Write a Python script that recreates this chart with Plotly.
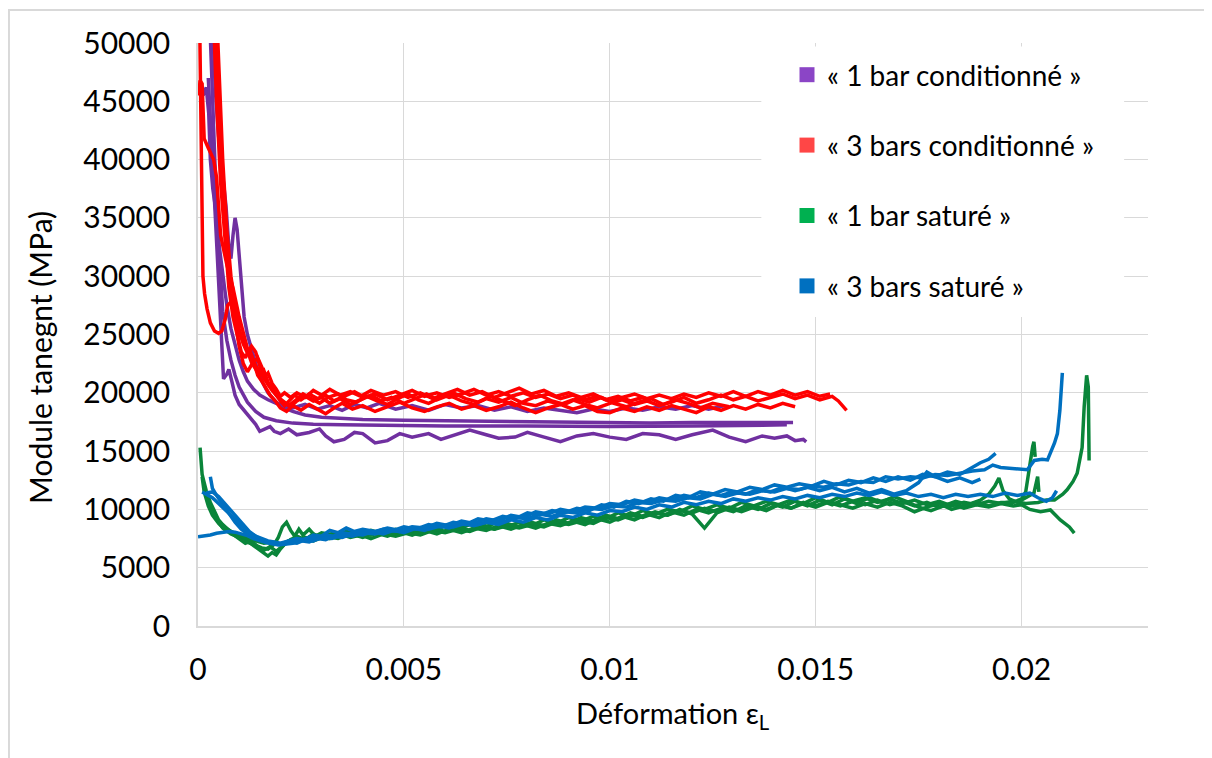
import plotly.graph_objects as go

# strain values typed in per-mille (‰), tangent modulus in MPa
# --- « 1 bar conditionné » (purple) ---
violet_1 = [(0.12,45500),(0.2,46200),(0.26,44000),(0.3,40000),(0.36,37500),(0.42,36000),(0.5,33000),(0.6,30000),
            (0.7,27500),(0.8,25500),(0.9,24000),(1.0,22800),(1.1,21800),(1.2,21000),(1.35,20300),(1.5,19800),(1.7,19400),
            (1.9,19100),(2.1,18900),(2.3,18700),(2.6,19000),(2.9,18600),(3.2,18900),(3.5,18500),(3.8,19000),(4.1,18700),
            (4.4,19100),(4.8,18600),(5.2,18900),(5.6,18500),(6.0,19000),(6.4,18700),(6.8,18900),(7.2,18500),(7.6,18800),
            (8.0,18400),(8.4,18700),(8.8,18500),(9.2,18300),(9.6,18600),(10.0,18400),(10.4,18700),(10.8,18500),
            (11.2,18800),(11.6,18600),(12.0,18900),(12.4,18600),(12.8,18900)]
violet_2 = [(0.36,51000),(0.42,46000),(0.5,42000),(0.6,38500),(0.68,36000),(0.75,32500),(0.8,31500),(0.85,33500),
            (0.9,35000),(0.95,34000),(1.0,31500),(1.06,29000),(1.12,26500),(1.2,25000),(1.3,23800),(1.4,22500),
            (1.55,21000),(1.7,20000),(1.9,19200),(2.1,18700),(2.3,18400),(2.6,18100),(3.0,17900),(3.5,17800),
            (4.0,17700),(5.0,17650),(6.0,17600),(7.0,17550),(8.0,17500),(9.0,17450),(10.0,17400),(11.0,17400),
            (12.0,17450),(13.0,17450),(14.0,17450),(14.45,17450)]
violet_3 = [(0.3,50500),(0.35,45000),(0.4,40000),(0.45,36000),(0.5,33000),(0.55,30000),(0.6,27000),(0.7,24500),
            (0.8,22800),(0.9,21500),(1.0,20500),(1.2,19200),(1.4,18400),(1.6,17900),(1.9,17600),(2.3,17400),
            (2.8,17300),(3.5,17250),(4.5,17200),(6.0,17150),(8.0,17150),(10.0,17100),(12.0,17150),(13.5,17200),
            (14.3,17250)]
violet_4 = [(0.25,47000),(0.35,40000),(0.45,33000),(0.52,27000),(0.58,23000),(0.62,21200),(0.7,21600),(0.75,22000),
            (0.82,21000),(0.9,19800),(1.0,19000),(1.1,18600),(1.25,17900),(1.4,17300),(1.5,16700),(1.65,16900),
            (1.75,17100),(1.85,16700),(2.0,16500),(2.2,16900),(2.4,16400),(2.7,16600),(2.95,16900),(3.1,16300),
            (3.3,15800),(3.55,16000),(3.8,16600),(4.0,16500),(4.3,15700),(4.6,15900),(4.9,16500),(5.2,16200),
            (5.6,16500),(5.9,16000),(6.3,16500),(6.6,16800),(7.0,16400),(7.3,16100),(7.7,16200),(8.0,16600),
            (8.3,16300),(8.8,15800),(9.2,16300),(9.6,16500),(10.0,16200),(10.4,16000),(10.8,16500),(11.2,16400),
            (11.6,16000),(12.0,16400),(12.5,16800),(12.9,16200),(13.3,15800),(13.7,16300),(14.0,16100),(14.3,16300),
            (14.5,15900),(14.7,16000),(14.77,15800)]

# --- « 3 bars conditionné » (red) ---
rouge_1 = [(0.02,45500),(0.05,46800),(0.1,46500),(0.12,44000),(0.15,41800),(0.25,41000),(0.38,40000),(0.45,38500),
           (0.5,36000),(0.55,33500),(0.7,31000),(0.85,29000),(1.0,26500),(1.1,25000),(1.2,23800),(1.3,23200),
           (1.4,22300),(1.5,21800),(1.6,21200),(1.7,20700),(1.8,20200),(1.95,19600),(2.1,19200),(2.25,18800),
           (2.4,19300),(2.6,19700),(2.8,19300),(3.0,19600),(3.2,19100),(3.45,19500),(3.7,19000),(3.95,19400),
           (4.2,19800),(4.45,19300),(4.7,19600),(5.0,19100),(5.3,19500),(5.55,19900),(5.8,19400),(6.1,19800),
           (6.4,19300),(6.7,19000),(7.0,19500),(7.3,19200),(7.6,19600),(7.9,19100),(8.2,18900),(8.5,19300),
           (8.8,19000),(9.1,19400),(9.4,19000),(9.7,18700),(10.0,19100),(10.3,19400),(10.6,19000),(10.9,19300),
           (11.2,18900),(11.5,19200),(11.8,19600),(12.1,19100),(12.4,19400),(12.7,19800),(13.0,19400),(13.3,19700),
           (13.6,19300),(13.9,19600),(14.2,19900),(14.5,19500),(14.8,19800),(15.1,19400),(15.4,19700),(15.55,19300),
           (15.65,18900),(15.75,18500)]
rouge_2 = [(0.04,52000),(0.06,46000),(0.08,40000),(0.1,34000),(0.12,30000),(0.16,28500),(0.22,27200),(0.3,26000),
           (0.4,25300),(0.5,25100),(0.58,25300),(0.66,26300),(0.72,27500),(0.8,27800),(0.9,26500),(1.0,25200),
           (1.1,24300),(1.2,23600),(1.3,22600),(1.4,22000),(1.5,21500),(1.6,21900),(1.7,20900),(1.8,20400),
           (1.9,19800),(2.0,19300),(2.1,18900),(2.2,19300),(2.35,19800),(2.5,19400),(2.7,19900),(2.9,19500),
           (3.1,19800),(3.3,19300),(3.55,19700),(3.8,20100),(4.05,19600),(4.3,19900),(4.6,19400),(4.9,19800),
           (5.2,20200),(5.5,19700),(5.8,20000),(6.1,19600),(6.4,19900),(6.7,20300),(7.0,19800),(7.3,20100),
           (7.6,19700),(7.9,20000),(8.2,19600),(8.5,19900),(8.8,19500),(9.1,19800),(9.4,19400),(9.7,19700),
           (10.0,19300),(10.3,19600),(10.6,19900),(10.9,19500),(11.2,19800),(11.5,19500),(11.8,19900),(12.1,19600),
           (12.4,20000),(12.7,19700),(13.0,20100),(13.3,19700),(13.6,20100),(13.9,19800),(14.2,20200),(14.5,19800),
           (14.8,20100),(15.1,19700),(15.35,19900)]
rouge_3 = [(0.38,52000),(0.45,45000),(0.55,38000),(0.65,33000),(0.75,29000),(0.85,26500),(0.95,25000),(1.05,23500),
           (1.15,23000),(1.25,23800),(1.35,22700),(1.45,21500),(1.55,21000),(1.65,20400),(1.75,19800),(1.9,19200),
           (2.0,18700),(2.15,18400),(2.3,18900),(2.5,18500),(2.7,19000),(2.9,18600),(3.1,18200),(3.3,18700),
           (3.5,19100),(3.75,18600),(4.0,18900),(4.3,18400),(4.6,18800),(4.9,19200),(5.2,18700),(5.5,18400),
           (5.8,18800),(6.1,19100),(6.4,18600),(6.7,18900),(7.0,18500),(7.3,18800),(7.6,19200),(7.9,18700),
           (8.2,18300),(8.5,18700),(8.8,19000),(9.1,18600),(9.4,18900),(9.7,18400),(10.0,18300),(10.3,18700),
           (10.6,18400),(10.9,18800),(11.2,18500),(11.5,18900),(11.8,18600),(12.1,18300),(12.4,18800),(12.7,18500),
           (13.0,18900),(13.3,18600),(13.6,19000),(13.9,18700),(14.2,19100),(14.5,18800)]
rouge_4 = [(0.42,52000),(0.5,44000),(0.6,37000),(0.7,32000),(0.8,28500),(0.9,26000),(1.0,24000),(1.1,22500),
           (1.2,21800),(1.3,22400),(1.45,23000),(1.55,22200),(1.7,20800),(1.8,20300),(1.9,19800),(2.05,19200),
           (2.2,18900),(2.35,19300),(2.55,19900),(2.75,19500),(2.95,19100),(3.15,19600),(3.4,19900),(3.6,19400),
           (3.85,19200),(4.1,19700),(4.35,19300),(4.6,19000),(4.85,19500),(5.1,19900),(5.35,19400),(5.6,19100),
           (5.9,19600),(6.2,20000),(6.5,19500),(6.8,19200),(7.1,19700),(7.4,19300),(7.7,18900),(8.0,19400),
           (8.3,19800),(8.6,19300),(8.9,19000),(9.2,19500),(9.5,19200),(9.8,19600),(10.1,19100),(10.4,18800),
           (10.7,19200),(11.0,19500),(11.3,19000),(11.6,19400),(11.9,19100),(12.2,18700),(12.5,19100),(12.9,18800)]
rouge_5 = [(0.46,52000),(0.52,46000),(0.6,40000),(0.7,34000),(0.8,30000),(0.9,27500),(1.0,25500),(1.1,24200),
           (1.2,23400),(1.3,24000),(1.4,23500),(1.5,22300),(1.6,21300),(1.7,21700),(1.8,20800),(1.9,20300),
           (2.0,19700),(2.1,20000),(2.25,19600),(2.4,20000),(2.6,19600),(2.8,20200),(3.0,19800),(3.2,20300),
           (3.45,19800),(3.7,20100),(3.95,19700),(4.2,20200),(4.5,19800),(4.8,20100),(5.1,19600),(5.4,20000),
           (5.7,19500),(6.0,19900),(6.3,20300),(6.6,19800),(6.9,20100),(7.2,19600),(7.5,20000),(7.8,20400),
           (8.1,19900),(8.4,20200),(8.7,19700),(9.0,20000),(9.3,19600),(9.6,19900),(9.9,19400),(10.2,19700),
           (10.5,19300),(10.8,19600),(11.0,19300)]

# --- « 1 bar saturé » (green) ---
vert_1 = [(0.05,15300),(0.07,14500),(0.1,13000),(0.15,12300),(0.2,11600),(0.3,10600),(0.4,9800),(0.5,9100),
          (0.6,8700),(0.75,8200),(0.9,7900),(1.05,7600),(1.2,7300),(1.35,6900),(1.5,6500),(1.6,6200),(1.7,6000),
          (1.8,6300),(1.9,6100),(2.0,6600),(2.1,7000),(2.25,7400),(2.4,7200),(2.6,7600),(2.8,7400),(3.0,7700),
          (3.2,7500),(3.45,7900),(3.7,7600),(3.95,7800),(4.2,7500),(4.5,7900),(4.8,7700),(5.1,8000),(5.4,7800),
          (5.7,8200),(6.0,8000),(6.3,8300),(6.6,8100),(6.9,8500),(7.2,8300),(7.5,8600),(7.8,8400),(8.1,8700),
          (8.4,8500),(8.7,8900),(9.0,8700),(9.3,9000),(9.6,8800),(9.9,9300),(10.2,9100),(10.5,9500),(10.8,9300),
          (11.1,9700),(11.4,9500),(11.7,9900),(12.0,9700),(12.3,10100),(12.6,9800),(12.9,10200),(13.2,9900),
          (13.5,10300),(13.8,10000),(14.1,10400),(14.4,10100),(14.7,10500),(15.0,10200),(15.3,10600),(15.6,10300),
          (15.9,10700),(16.2,10400),(16.5,10800),(16.8,10400),(17.1,10700),(17.4,10300),(17.7,10600),(18.0,10200),
          (18.3,10500),(18.6,10100),(18.9,10400),(19.2,10200),(19.5,10500),(19.8,10300),(20.0,10400),(20.2,10000),
          (20.46,9800),(20.7,9950),(20.94,9100),(21.16,8500),(21.28,7970)]
vert_2 = [(0.2,11200),(0.3,10300),(0.4,9500),(0.5,8900),(0.6,8400),(0.8,7900),(1.0,7600),(1.2,7200),(1.4,6900),
          (1.55,6700),(1.7,6600),(1.85,7000),(1.95,7600),(2.05,8500),(2.15,8900),(2.25,8200),(2.35,7700),(2.45,8300),
          (2.55,7800),(2.7,8300),(2.85,7700),(3.0,8000),(3.3,7800),(3.6,8100),(3.9,7900),(4.2,8200),(4.5,7900),
          (4.8,8300),(5.1,8000),(5.4,8400),(5.7,8100),(6.0,8600),(6.3,8300),(6.6,8700),(6.9,8400),(7.2,8800),
          (7.5,8500),(7.8,8900),(8.1,8600),(8.4,9100),(8.7,8800),(9.0,9300),(9.3,9000),(9.6,9400),(9.9,9200),
          (10.2,9700),(10.5,9400),(10.8,9900),(11.1,9600),(11.4,10000),(11.7,9800),(12.0,10300),(12.3,10000),
          (12.6,10400),(12.9,10100),(13.2,10600),(13.5,10300),(13.8,10700),(14.1,10400),(14.4,10800),(14.7,10500),
          (15.0,11000),(15.3,10600),(15.6,11100),(15.9,10700),(16.2,11000),(16.5,10600),(16.8,10900),(17.1,10500),
          (17.4,10800),(17.7,10400),(18.0,10700),(18.3,10300),(18.6,10600),(18.9,10400),(19.2,10700),(19.5,10500),
          (19.8,10700),(20.1,10500),(20.4,10600),(20.6,10800),(20.8,10800),(21.0,11300),(21.11,11700),(21.25,12400),
          (21.35,13100),(21.47,15300),(21.52,18800),(21.58,21500),(21.62,20500),(21.64,14200)]
vert_3 = [(0.1,12800),(0.15,11500),(0.25,10300),(0.35,9500),(0.5,8800),(0.65,8300),(0.8,8000),(1.0,7500),
          (1.15,7100),(1.3,7300),(1.45,6800),(1.6,6500),(1.75,6800),(1.9,6400),(2.05,6900),(2.2,7300),(2.4,7700),
          (2.6,7400),(2.8,7900),(3.0,7600),(3.3,8000),(3.6,7700),(3.9,8100),(4.2,7800),(4.5,8200),(4.8,7900),
          (5.1,8300),(5.4,8000),(5.7,8400),(6.0,8100),(6.3,8500),(6.6,8200),(6.9,8700),(7.2,8300),(7.5,8800),
          (7.8,8500),(8.1,8900),(8.4,8600),(8.7,9100),(9.0,8800),(9.3,9300),(9.6,9000),(9.9,9500),(10.2,9200),
          (10.5,9700),(10.8,9400),(11.1,9800),(11.4,9500),(11.7,10000),(12.0,9600),(12.3,8400),(12.6,9700),
          (12.9,10100),(13.2,9800),(13.5,10200),(13.8,9900),(14.1,10400),(14.4,10100),(14.7,10600),(15.0,10300),
          (15.3,10700),(15.6,10400),(15.9,10100),(16.2,10500),(16.5,10200),(16.8,10600),(17.1,10300),(17.4,9800),
          (17.7,10200),(18.0,10500),(18.3,10000),(18.6,10300),(18.9,10600),(19.2,10300),(19.5,10600),(19.8,10600),
          (20.0,10900),(20.1,11500),(20.15,12800),(20.2,14000),(20.27,15400),(20.3,15800),(20.33,14500)]
vert_4 = [(0.3,10000),(0.45,9200),(0.6,8600),(0.8,8100),(1.0,7800),(1.2,7500),(1.4,7300),(1.6,7100),(1.8,7200),
          (2.0,7000),(2.2,7300),(2.5,7500),(2.8,7300),(3.1,7700),(3.4,7500),(3.7,7900),(4.0,7600),(4.3,8000),
          (4.6,7700),(4.9,8100),(5.2,7800),(5.5,8200),(5.8,7900),(6.1,8300),(6.4,8000),(6.7,8400),(7.0,8200),
          (7.3,8600),(7.6,8300),(7.9,8700),(8.2,8400),(8.5,8800),(8.8,8600),(9.1,9000),(9.4,8700),(9.7,9200),
          (10.0,8900),(10.3,9400),(10.6,9100),(10.9,9600),(11.2,9300),(11.5,9800),(11.8,9500),(12.1,10000),
          (12.4,9700),(12.7,10100),(13.0,9800),(13.3,10300),(13.6,10000),(13.9,10500),(14.2,10200),(14.5,10700),
          (14.8,10300),(15.1,10800),(15.4,10400),(15.7,10900),(16.0,10500),(16.3,11000),(16.6,10600),(16.9,11100),
          (17.2,10700),(17.5,10200),(17.8,9900),(18.1,10300),(18.4,10700),(18.7,10400),(19.0,10800),(19.2,11300),
          (19.35,12000),(19.45,12700),(19.55,11600),(19.7,10900),(19.9,10600),(20.1,11000),(20.3,11400),
          (20.39,12800),(20.42,11500)]

# --- « 3 bars saturé » (blue) ---
bleu_1 = [(0.0,7650),(0.15,7700),(0.3,7800),(0.45,7950),(0.6,8050),(0.75,8100),(0.9,8050),(1.05,7900),(1.2,7750),
          (1.35,7500),(1.5,7300),(1.65,7150),(1.8,7050),(1.95,6950),(2.1,7000),(2.3,7100),(2.5,7300),(2.7,7200),
          (2.9,7500),(3.1,7400),(3.3,7700),(3.5,7600),(3.75,7900),(4.0,7800),(4.25,8100),(4.5,7900),(4.75,8200),
          (5.0,8000),(5.3,8400),(5.6,8300),(5.9,8600),(6.2,8500),(6.5,8800),(6.8,8700),(7.1,9000),(7.4,8900),
          (7.7,9300),(8.0,9200),(8.3,9600),(8.6,9400),(8.9,9800),(9.2,9700),(9.5,10100),(9.8,10000),(10.1,10300),
          (10.4,10200),(10.7,10600),(11.0,10500),(11.3,10800),(11.6,10700),(11.9,11000),(12.2,10900),(12.5,11300),
          (12.8,11100),(13.1,11400),(13.4,11300),(13.7,11600),(14.0,11500),(14.3,11800),(14.6,11700),(14.9,12000),
          (15.2,11900),(15.5,12200),(15.8,12100),(16.1,12400),(16.4,12300),(16.7,12800),(17.0,12600),(17.3,12800),
          (17.6,12700),(17.9,13000),(18.2,12900),(18.5,13100),(18.8,13300),(19.1,13400),(19.3,13800),(19.49,13600),
          (19.8,13500),(20.14,13400),(20.31,14200),(20.5,14300),(20.63,14240),(20.8,15700),(20.87,16500),
          (20.93,18500),(20.99,21700)]
bleu_2 = [(0.3,12800),(0.35,11800),(0.45,11200),(0.6,10400),(0.75,9600),(0.9,8900),(1.05,8300),(1.2,7900),
          (1.35,7600),(1.5,7400),(1.65,7200),(1.8,7100),(1.95,7000),(2.1,7050),(2.3,7200),(2.5,7350),(2.7,7600),
          (2.9,7500),(3.1,7800),(3.3,7700),(3.5,8000),(3.75,7900),(4.0,8200),(4.25,8000),(4.5,8300),(4.75,8200),
          (5.0,8500),(5.3,8300),(5.6,8700),(5.9,8500),(6.2,8900),(6.5,8700),(6.8,9200),(7.1,9000),(7.4,9400),
          (7.7,9200),(8.0,9700),(8.3,9500),(8.6,9900),(8.9,9700),(9.2,10100),(9.5,9900),(9.8,10400),(10.1,10200),
          (10.4,10700),(10.7,10500),(11.0,10900),(11.3,10700),(11.6,11200),(11.9,11000),(12.2,11500),(12.5,11300),
          (12.8,11700),(13.1,11500),(13.4,11900),(13.7,11700),(14.0,12100),(14.3,11900),(14.6,12200),(14.9,12000),
          (15.2,12400),(15.5,12100),(15.8,12500),(16.1,12300),(16.4,12700),(16.7,12400),(17.0,12800),(17.3,12500),
          (17.6,13000),(17.9,12800),(18.2,13200),(18.5,13000),(18.8,13600),(19.0,14000),(19.2,14300),(19.37,14800)]
bleu_3 = [(0.2,11400),(0.35,11500),(0.5,11100),(0.65,10500),(0.8,9800),(0.95,9200),(1.1,8600),(1.25,8100),
          (1.4,7700),(1.55,7400),(1.7,7200),(1.85,7100),(2.0,7050),(2.2,7200),(2.4,7100),(2.6,7400),(2.8,7300),
          (3.0,7600),(3.25,7500),(3.5,7800),(3.75,7700),(4.0,8000),(4.3,7900),(4.6,8200),(4.9,8100),(5.2,8400),
          (5.5,8200),(5.8,8600),(6.1,8400),(6.4,8800),(6.7,8600),(7.0,8900),(7.3,8700),(7.6,9100),(7.9,8900),
          (8.2,9300),(8.5,9100),(8.8,9500),(9.1,9300),(9.4,9700),(9.7,9500),(10.0,9900),(10.3,9800),(10.6,10200),
          (10.9,10000),(11.2,10400),(11.5,10200),(11.8,10600),(12.1,10400),(12.4,10700),(12.7,10500),(13.0,10900),
          (13.3,10700),(13.6,11000),(13.9,10800),(14.2,11100),(14.5,10900),(14.8,11200),(15.1,11000),(15.4,11300),
          (15.7,11100),(16.0,11400),(16.3,11200),(16.6,11500),(16.9,11200),(17.2,11400),(17.5,11100),(17.8,11300),
          (18.1,11000),(18.4,11300),(18.7,11100),(19.0,11300),(19.3,11100),(19.6,11400),(19.9,11200),(20.2,11400),
          (20.4,11000),(20.6,10700),(20.75,11000),(20.85,11600)]
bleu_4 = [(0.1,11500),(0.2,11300),(0.35,11000),(0.5,10500),(0.65,10000),(0.8,9400),(0.95,8900),(1.1,8400),
          (1.25,8000),(1.4,7700),(1.55,7500),(1.7,7300),(1.85,7200),(2.0,7100),(2.2,7300),(2.4,7500),(2.6,7400),
          (2.8,7800),(3.0,7700),(3.2,8200),(3.4,8000),(3.6,8400),(3.8,8100),(4.0,8300),(4.3,8100),(4.6,8400),
          (4.9,8200),(5.2,8500),(5.5,8400),(5.8,8800),(6.1,8600),(6.4,9000),(6.7,8800),(7.0,9200),(7.3,9000),
          (7.6,9500),(7.9,9300),(8.2,9800),(8.5,9600),(8.8,10000),(9.1,9800),(9.4,10200),(9.7,10100),(10.0,10500),
          (10.3,10400),(10.6,10800),(10.9,10600),(11.2,11000),(11.5,10800),(11.8,11200),(12.1,11000),(12.4,11400),
          (12.7,11200),(13.0,11500),(13.3,11300),(13.6,11700),(13.9,11500),(14.2,11900),(14.5,11600),(14.8,11900),
          (15.1,11600),(15.4,11900),(15.7,11500),(16.0,11800),(16.3,11400),(16.6,11700),(16.9,11300),(17.2,11600),
          (17.5,12300),(17.7,13200),(17.9,12800),(18.2,12400),(18.5,12700),(18.8,12300),(19.0,12600)]

series = [
    ("« 1 bar conditionné »", "#7030A0", "#8B45C6", [violet_1, violet_2, violet_3, violet_4]),
    ("« 3 bars conditionné »", "#FF0000", "#FF4646", [rouge_1, rouge_2, rouge_3, rouge_4, rouge_5]),
    ("« 1 bar saturé »", "#0A853A", "#00B050", [vert_1, vert_2, vert_3, vert_4]),
    ("« 3 bars saturé »", "#0070C0", "#0070C0", [bleu_1, bleu_2, bleu_3, bleu_4]),
]
x_title = "Déformation ε<sub>L</sub>"
y_title = "Module tanegnt (MPa)"

FONT = "Lato, 'Open Sans', sans-serif"
fig = go.Figure()

for name, line_col, legend_col, curves in series:
    for c in curves:
        fig.add_trace(go.Scatter(
            x=[e / 1000 for e, _ in c], y=[m for _, m in c],
            mode="lines", line=dict(color=line_col, width=3.5),
            showlegend=False, hoverinfo="skip"))

# legend entries shown as squares (Excel style)
for name, line_col, legend_col, curves in series:
    fig.add_trace(go.Scatter(
        x=[None], y=[None], mode="markers", name=name, legendgroup=name,
        marker=dict(symbol="square", size=15, color=legend_col)))

# the page body adds an 8px offset, so the figure is 8px smaller than the window
fig.update_layout(
    width=1204, height=750,
    margin=dict(l=190, r=64, t=35, b=132),
    paper_bgcolor="white", plot_bgcolor="white",
    font=dict(family=FONT, size=30, color="#000000"),
    showlegend=True,
    legend=dict(x=0.62, y=0.988, xanchor="left", yanchor="top",
                bgcolor="rgba(0,0,0,0)", font=dict(size=28),
                tracegroupgap=31, traceorder="grouped"),
    xaxis=dict(range=[0, 0.02307], tickvals=[0, 0.005, 0.01, 0.015, 0.02],
               ticktext=["0", "0.005", "0.01", "0.015", "0.02"],
               showgrid=True, gridcolor="#d9d9d9", gridwidth=1,
               showline=True, linecolor="#d9d9d9", linewidth=1.5,
               zeroline=False, ticks="", ticklabelstandoff=16, automargin=False),
    yaxis=dict(range=[0, 50000], dtick=5000, tickformat="d",
               showgrid=True, gridcolor="#d9d9d9", gridwidth=1,
               showline=True, linecolor="#d9d9d9", linewidth=1.5,
               zeroline=False, ticks="", ticklabelstandoff=20, automargin=False),
    annotations=[
        dict(text=x_title, xref="paper", yref="paper", x=0.5, y=-0.152,
             xanchor="center", yanchor="middle", showarrow=False, font=dict(size=29)),
        dict(text=y_title, xref="paper", yref="paper", x=-0.1663, y=0.4597, textangle=-90,
             xanchor="center", yanchor="middle", showarrow=False, font=dict(size=30)),
    ],
    shapes=[
        # white box behind the legend, hiding the gridlines
        dict(type="rect", xref="x", yref="y", x0=0.01368, x1=0.02249, y0=26500, y1=49700,
             fillcolor="white", line=dict(width=0), layer="above"),
        # chart outer border
        dict(type="rect", xref="paper", yref="paper", x0=-0.199, x1=1.08, y0=-0.25, y1=1.0566,
             line=dict(color="#d9d9d9", width=2), fillcolor="rgba(0,0,0,0)"),
    ],
)

fig.write_html("out.html")
